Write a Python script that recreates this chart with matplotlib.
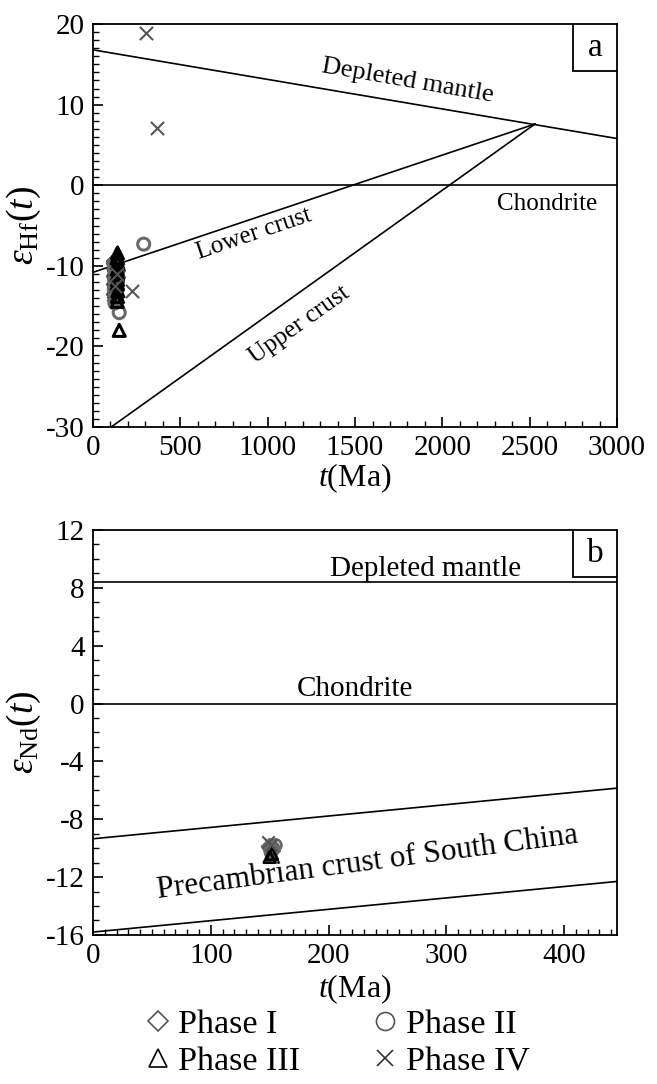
import matplotlib
matplotlib.use("Agg")
import matplotlib.pyplot as plt
from matplotlib.ticker import MultipleLocator
from matplotlib.patches import Rectangle

plt.rcParams['font.family'] = ['Liberation Serif', 'DejaVu Serif']
plt.rcParams['mathtext.fontset'] = 'custom'
plt.rcParams['mathtext.rm'] = 'Liberation Serif'
plt.rcParams['mathtext.it'] = 'Liberation Serif:italic'
plt.rcParams['axes.unicode_minus'] = False

# ---- panel a: Hf isotopes ----
dm_hf_t = [0, 3000]
dm_hf_e = [16.8, 5.8]
lc_t = [0, 2530]
lc_e = [-10.8, 7.6]
uc_t = [0, 2530]
uc_e = [-31.6, 7.6]

p1_hf_t = [118, 122, 126, 130, 134, 120, 124, 128, 132, 136, 119, 123, 127, 131, 135, 121, 125, 129, 133, 126, 122, 130, 128, 124]
p1_hf_e = [-9.4, -9.6, -9.3, -9.5, -9.8, -10.3, -10.6, -10.2, -10.8, -10.5, -11.2, -11.5, -11.0, -11.7, -11.4,
           -12.2, -12.5, -12.0, -12.7, -13.2, -13.5, -13.0, -13.8, -14.2]
p2_hf_t = [120, 127, 133, 124, 130, 122, 128, 134, 125, 290, 150]
p2_hf_e = [-9.8, -10.6, -11.2, -11.8, -12.3, -12.9, -13.5, -14.2, -14.6, -7.3, -15.8]
p3_hf_t = [140, 138, 142, 139, 141, 140, 138, 142, 140, 139, 150]
p3_hf_e = [-8.4, -9.0, -9.6, -10.4, -11.0, -11.7, -12.2, -13.1, -13.8, -14.4, -18.0]
p4_hf_t = [303, 366, 223, 135, 128]
p4_hf_e = [18.9, 7.1, -13.1, -11.0, -12.5]

# ---- panel b: Nd isotopes ----
dm_nd_t = [0, 445]
dm_nd_e = [8.4, 8.4]
pc_up_t = [0, 445]
pc_up_e = [-9.35, -5.85]
pc_lo_t = [0, 445]
pc_lo_e = [-15.8, -12.3]

p1_nd_t = [150, 152, 151]
p1_nd_e = [-9.9, -10.2, -10.0]
p2_nd_t = [153, 155, 151]
p2_nd_e = [-10.0, -9.8, -10.3]
p3_nd_t = [150, 152]
p3_nd_e = [-10.6, -10.4]
p4_nd_t = [149, 151]
p4_nd_e = [-9.6, -9.8]

gray = '#6a6a6a'

fig = plt.figure(figsize=(6.57, 10.84), dpi=100)
ax1 = fig.add_axes([0.1416, 0.606, 0.7976, 0.3718])
ax2 = fig.add_axes([0.1416, 0.1375, 0.7976, 0.3736])

lw = 1.2
ax1.plot(dm_hf_t, dm_hf_e, color='k', lw=lw)
ax1.axhline(0, color='k', lw=lw)
ax1.plot(lc_t, lc_e, color='k', lw=lw)
ax1.plot(uc_t, uc_e, color='k', lw=lw)

ax1.scatter(p1_hf_t, p1_hf_e, marker='D', s=60, facecolor='#505050', edgecolor='#454545', lw=1.5, zorder=3)
ax1.scatter(p2_hf_t, p2_hf_e, marker='o', s=75, facecolor='none', edgecolor=gray, lw=2.2, zorder=3)
ax1.scatter(p3_hf_t, p3_hf_e, marker='^', s=75, facecolor='none', edgecolor='k', lw=2.2, zorder=3)
ax1.scatter(p4_hf_t, p4_hf_e, marker='x', s=90, color='#555555', lw=1.5, zorder=3)

ax1.set_xlim(0, 3000)
ax1.set_ylim(-30, 20)
ax1.xaxis.set_major_locator(MultipleLocator(500))
ax1.xaxis.set_minor_locator(MultipleLocator(100))
ax1.yaxis.set_major_locator(MultipleLocator(10))
ax1.yaxis.set_minor_locator(MultipleLocator(1))

ax1.text(1800, 13.0, 'Depleted mantle', rotation=-9.8, ha='center', va='center', fontsize=19)
ax1.text(2600, -1.0, 'Chondrite', ha='center', va='top', fontsize=18)
ax1.text(920, -2.4, 'Lower crust', rotation=18.7, ha='center', va='top', fontsize=18)
ax1.text(1180, -12.0, 'Upper crust', rotation=35.5, ha='center', va='top', fontsize=18)

ax1.set_xlabel(r'$t$(Ma)', fontsize=23, labelpad=0)
ax1.set_ylabel(r'$\varepsilon_{\rm Hf}(t)$', fontsize=27, labelpad=2)

ax2.plot(dm_nd_t, dm_nd_e, color='k', lw=lw)
ax2.axhline(0, color='k', lw=lw)
ax2.plot(pc_up_t, pc_up_e, color='k', lw=lw)
ax2.plot(pc_lo_t, pc_lo_e, color='k', lw=lw)

ax2.scatter(p1_nd_t, p1_nd_e, marker='D', s=60, facecolor='none', edgecolor=gray, lw=2, zorder=3)
ax2.scatter(p2_nd_t, p2_nd_e, marker='o', s=70, facecolor='none', edgecolor=gray, lw=2, zorder=3)
ax2.scatter(p3_nd_t, p3_nd_e, marker='^', s=70, facecolor='none', edgecolor='k', lw=2, zorder=3)
ax2.scatter(p4_nd_t, p4_nd_e, marker='x', s=80, color='#555555', lw=1.5, zorder=3)

ax2.set_xlim(0, 445)
ax2.set_ylim(-16, 12)
ax2.xaxis.set_major_locator(MultipleLocator(100))
ax2.xaxis.set_minor_locator(MultipleLocator(10))
ax2.yaxis.set_major_locator(MultipleLocator(4))
ax2.yaxis.set_minor_locator(MultipleLocator(1))

ax2.text(282, 9.3, 'Depleted mantle', ha='center', va='center', fontsize=21)
ax2.text(222, 1.0, 'Chondrite', ha='center', va='center', fontsize=21)
ax2.text(233, -11.0, 'Precambrian crust of South China', rotation=7.5, ha='center', va='center', fontsize=22.5)

ax2.set_xlabel(r'$t$(Ma)', fontsize=23, labelpad=2)
ax2.set_ylabel(r'$\varepsilon_{\rm Nd}(t)$', fontsize=27, labelpad=2)

for ax, lab in ((ax1, 'a'), (ax2, 'b')):
    ax.tick_params(which='both', direction='in', top=False, right=False, labelsize=21, pad=6)
    ax.tick_params(which='major', length=7, width=1.2)
    ax.tick_params(which='minor', length=4, width=1.0)
    for sp in ax.spines.values():
        sp.set_linewidth(1.3)
    ax.add_patch(Rectangle((0.916, 0.884), 0.084, 0.116, transform=ax.transAxes,
                           fc='white', ec='k', lw=1.3, zorder=5))
    ax.text(0.958, 0.942, lab, transform=ax.transAxes, ha='center', va='center',
            fontsize=24, zorder=6)

# legend
h_dia = plt.Line2D([], [], ls='none', marker='D', ms=10, mfc='none', mec='#555555', mew=1.2)
h_cir = plt.Line2D([], [], ls='none', marker='o', ms=13, mfc='none', mec='#555555', mew=1.2)
h_tri = plt.Line2D([], [], ls='none', marker='^', ms=13, mfc='none', mec='k', mew=1.2)
h_x = plt.Line2D([], [], ls='none', marker='x', ms=12, color='#333333', mew=1.2)
fig.legend([h_dia, h_tri, h_cir, h_x], ['Phase I', 'Phase III', 'Phase II', 'Phase IV'],
           ncol=2, loc='lower center', bbox_to_anchor=(0.51, -0.022),
           frameon=False, fontsize=24.5, handletextpad=0.1, columnspacing=2.0,
           labelspacing=0.2, handlelength=1.0)

fig.savefig('out.png', dpi=100)
